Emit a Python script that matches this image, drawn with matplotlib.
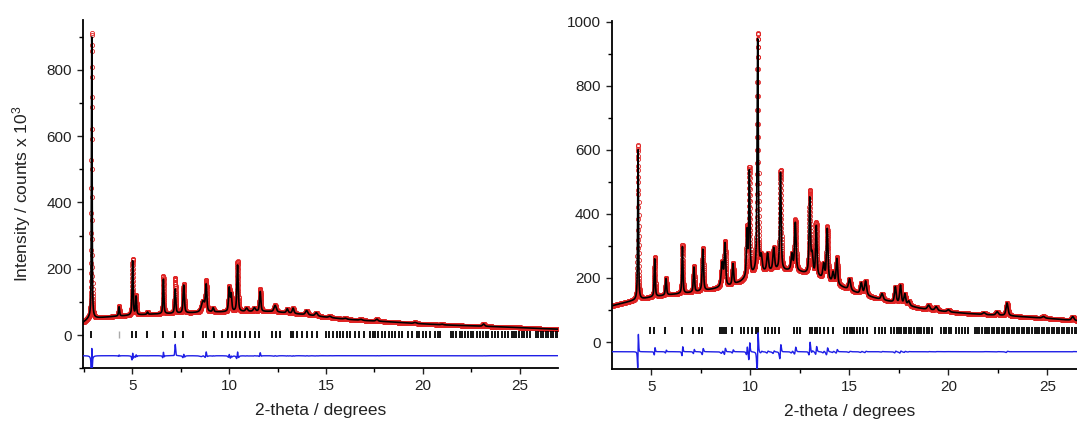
import numpy as np
import matplotlib
matplotlib.use('Agg')
import matplotlib.pyplot as plt
from matplotlib.ticker import MultipleLocator

plt.rcParams['font.family'] = ['Liberation Sans', 'DejaVu Sans']
plt.rcParams['mathtext.default'] = 'regular'

# ---- left pattern ----
left_bg_x = [2.45, 2.6, 2.75, 3.2, 4.0, 5.0, 6.0, 7.0, 8.0, 9.0, 10.0, 11.0, 12.0, 13.0, 14.0,
             15.0, 16.0, 17.0, 18.0, 19.0, 20.0, 21.0, 22.0, 23.0, 24.0, 25.0, 26.0, 27.0]
left_bg_y = [38, 44, 50, 52, 56, 60, 63, 65, 67, 69, 70, 71, 71, 67, 61,
             54, 48, 44, 41, 37, 34, 31, 29, 27, 25, 23, 20, 18]
left_pos = [2.90, 4.31, 5.01, 5.19, 5.78, 6.60, 7.21, 7.65, 8.65, 8.81, 9.17, 10.00, 10.10, 10.43,
            10.90, 11.30, 11.60, 12.37, 13.00, 13.30, 14.00, 14.50, 15.20, 16.00, 16.80, 17.63,
            19.60, 21.00, 23.14]
left_calc_h = [848, 28, 163, 55, 7, 104, 73, 84, 33, 78, 12, 70, 50, 140,
               10, 11, 60, 20, 12, 16, 13, 10, 4, 3, 3, 6,
               3, 2, 7]
left_obs_h = [863, 30, 170, 58, 7, 114, 107, 88, 33, 91, 12, 75, 50, 151,
              10, 11, 69, 20, 12, 16, 13, 10, 4, 3, 3, 6,
              3, 2, 7]
left_fwhm = [0.04, 0.06, 0.06, 0.06, 0.07, 0.06, 0.07, 0.08, 0.20, 0.08, 0.08, 0.08, 0.08, 0.08,
             0.12, 0.12, 0.08, 0.14, 0.10, 0.10, 0.14, 0.14, 0.15, 0.15, 0.15, 0.12,
             0.15, 0.15, 0.12]
left_hkl = [2.88, 5.00, 5.18, 5.76, 6.59, 7.19, 7.62, 8.65, 8.79, 9.21, 9.65, 9.95, 10.12, 10.37,
            10.55, 10.82, 11.08, 11.34, 11.56, 12.21, 12.43, 12.63, 13.19, 13.32, 13.50, 13.76,
            14.02, 14.28, 14.56, 15.01, 15.18, 15.35, 15.56, 15.73, 15.90, 16.08, 16.25, 16.51,
            16.68, 16.94, 17.28, 17.42, 17.54, 17.71, 17.89, 18.06, 18.23, 18.40, 18.57, 18.75,
            18.90, 19.25, 19.45, 19.68, 19.80, 20.02, 20.14, 20.37, 20.63, 20.76, 20.89, 21.45,
            21.57, 21.69, 21.92, 22.04, 22.18, 22.35, 22.49, 22.61, 22.78, 22.95, 23.12, 23.24,
            23.38, 23.55, 23.73, 23.90, 24.07, 24.25, 24.38, 24.59, 24.73, 24.84, 24.97, 25.10,
            25.24, 25.36, 25.54, 25.83, 25.97, 26.11, 26.22, 26.34, 26.48, 26.62, 26.74, 26.86,
            26.98]
left_hkl_minor = [4.31]

# ---- right pattern ----
right_bg_x = [3.0, 4.0, 5.0, 6.0, 7.0, 7.5, 8.3, 9.0, 9.5, 9.8, 10.2, 10.8, 11.3, 12.0, 12.5,
              13.0, 13.5, 14.0, 14.5, 15.0, 15.5, 16.0, 16.5, 17.0, 17.5, 18.0, 18.5, 19.0,
              20.0, 21.0, 22.0, 23.0, 24.0, 25.0, 26.0, 27.0]
right_bg_y = [113, 128, 140, 148, 154, 158, 167, 175, 187, 198, 210, 218, 222, 222, 218,
              210, 200, 188, 175, 162, 150, 142, 134, 127, 120, 113, 106, 101,
              94, 89, 85, 82, 78, 74, 69, 64]
right_pos = [4.33, 5.17, 5.74, 6.57, 7.15, 7.60, 8.58, 8.72, 9.12, 9.83, 9.95, 10.37, 10.55,
             10.87, 11.18, 11.52, 12.10, 12.27, 13.00, 13.12, 13.33, 13.70, 13.88, 14.18, 14.37,
             15.01, 15.60, 15.82, 16.65, 17.32, 17.58, 17.80, 18.00, 19.00, 19.38, 20.00,
             21.80, 22.46, 22.96, 24.80, 26.28]
right_calc_h = [468, 118, 52, 146, 78, 130, 75, 130, 65, 140, 325, 730, 45,
                55, 70, 305, 50, 150, 235, 60, 155, 45, 160, 32, 80,
                35, 35, 44, 19, 49, 57, 33, 14, 14, 12, 7,
                6, 11, 40, 5, 12]
right_obs_h = [483, 123, 54, 152, 81, 134, 75, 135, 68, 150, 335, 749, 45,
               55, 70, 313, 50, 159, 257, 60, 165, 45, 166, 32, 84,
               35, 35, 44, 19, 49, 57, 33, 14, 14, 12, 7,
               6, 11, 40, 5, 12]
right_fwhm = [0.05, 0.06, 0.07, 0.06, 0.07, 0.08, 0.12, 0.08, 0.08, 0.07, 0.07, 0.07, 0.10,
              0.10, 0.10, 0.08, 0.10, 0.09, 0.08, 0.10, 0.08, 0.10, 0.09, 0.10, 0.09,
              0.12, 0.12, 0.12, 0.12, 0.10, 0.10, 0.10, 0.12, 0.14, 0.14, 0.14,
              0.15, 0.14, 0.12, 0.15, 0.14]
right_hkl = [4.93, 5.14, 5.69, 6.57, 7.12, 7.41, 7.58, 8.45, 8.59, 8.69, 8.75, 9.09, 9.51, 9.68,
             9.90, 10.10, 10.30, 10.40, 10.74, 10.91, 11.10, 11.26, 11.43, 12.19, 12.36, 12.53,
             13.00, 13.12, 13.25, 13.37, 13.54, 13.70, 13.91, 14.18, 14.75, 14.88, 15.01, 15.14,
             15.25, 15.39, 15.52, 15.69, 15.89, 16.31, 16.48, 16.65, 16.82, 17.11, 17.24, 17.38,
             17.49, 17.61, 17.75, 17.88, 18.00, 18.12, 18.25, 18.39, 18.50, 18.63, 18.76, 18.93,
             19.04, 19.18, 19.65, 19.77, 19.88, 20.02, 20.15, 20.36, 20.52, 20.69, 20.83, 20.99,
             21.33, 21.45, 21.57, 21.70, 21.84, 21.95, 22.07, 22.21, 22.32, 22.46, 22.58, 22.71,
             22.83, 22.96, 23.08, 23.22, 23.33, 23.47, 23.59, 23.72, 23.84, 23.97, 24.09, 24.23,
             24.35, 24.48, 24.60, 24.73, 24.85, 24.98, 25.10, 25.24, 25.35, 25.49, 25.61, 25.74,
             25.86, 26.00, 26.11, 26.25, 26.37, 26.50]


def pseudo_voigt(x, pos, h, fwhm, eta=0.6):
    d = (x - pos) / (fwhm / 2.0)
    lor = 1.0 / (1.0 + d ** 2)
    gau = np.exp(-np.log(2) * d ** 2)
    return h * (eta * lor + (1 - eta) * gau)


def profile(x, bg_x, bg_y, pos, heights, fwhm, width_scale=1.0, shift=0.0):
    y = np.interp(x, bg_x, bg_y)
    for p, h, w in zip(pos, heights, fwhm):
        y = y + pseudo_voigt(x, p + shift, h, w * width_scale)
    return y


def draw_panel(ax, xlim, ylim, ymax_tick, bg_x, bg_y, pos, calc_h, obs_h, fwhm,
               hkl, hkl_level, diff_offset, width_scale=0.88, shift=0.0):
    # step scan grid of the measurement, finer grid for the fitted curve
    x_obs = np.arange(xlim[0], xlim[1] + 0.001, 0.003)
    x_calc = np.arange(xlim[0], xlim[1] + 0.001, 0.001)
    y_obs = profile(x_obs, bg_x, bg_y, pos, obs_h, fwhm, width_scale, shift)
    y_calc = profile(x_calc, bg_x, bg_y, pos, calc_h, fwhm)
    y_calc_at_obs = profile(x_obs, bg_x, bg_y, pos, calc_h, fwhm)
    diff = y_obs - y_calc_at_obs + diff_offset

    ax.plot(x_obs, y_obs, 'o', ms=3.0, mfc='none', mec='#e02424', mew=0.6, zorder=2)
    ax.plot(x_calc, y_calc, '-', color='black', lw=1.2, zorder=3)
    ax.vlines(hkl, hkl_level - 10, hkl_level + 11, color='black', lw=1.3, zorder=3)
    ax.plot(x_obs, diff, '-', color='#1f1fe6', lw=1.0, zorder=3)

    ax.set_xlim(*xlim)
    ax.set_ylim(*ylim)
    ax.xaxis.set_major_locator(MultipleLocator(5))
    ax.xaxis.set_minor_locator(MultipleLocator(2.5))
    ax.yaxis.set_major_locator(MultipleLocator(200))
    ax.yaxis.set_minor_locator(MultipleLocator(100))
    ax.set_yticks(np.arange(0, ymax_tick + 1, 200))
    ax.spines['top'].set_visible(False)
    ax.spines['right'].set_visible(False)
    for s in ('left', 'bottom'):
        ax.spines[s].set_linewidth(1.3)
    ax.tick_params(which='major', direction='out', length=4.5, width=1.0, labelsize=11,
                   colors='#222222')
    ax.tick_params(which='minor', direction='out', length=3, width=1.0)
    ax.set_xlabel('2-theta / degrees', fontsize=12.5, labelpad=7, color='#222222')


fig = plt.figure(figsize=(10.77, 4.21), dpi=100)
ax1 = fig.add_axes([0.0771, 0.1252, 0.4413, 0.8273])
ax2 = fig.add_axes([0.5680, 0.1228, 0.4413, 0.8272])

draw_panel(ax1, (2.45, 27.0), (-100, 950), 800, left_bg_x, left_bg_y, left_pos,
           left_calc_h, left_obs_h, left_fwhm, left_hkl, 0, -62, shift=0.001)
ax1.vlines(left_hkl_minor, -10, 11, color='#aaaaaa', lw=1.0, zorder=3)
ax1.set_ylabel('Intensity / counts x 10$^{3}$', fontsize=12.5, labelpad=10, color='#222222')

draw_panel(ax2, (3.0, 27.0), (-85, 1002), 1000, right_bg_x, right_bg_y, right_pos,
           right_calc_h, right_obs_h, right_fwhm, right_hkl, 35, -30,
           width_scale=0.96, shift=0.004)

fig.savefig('out.png', dpi=100)
